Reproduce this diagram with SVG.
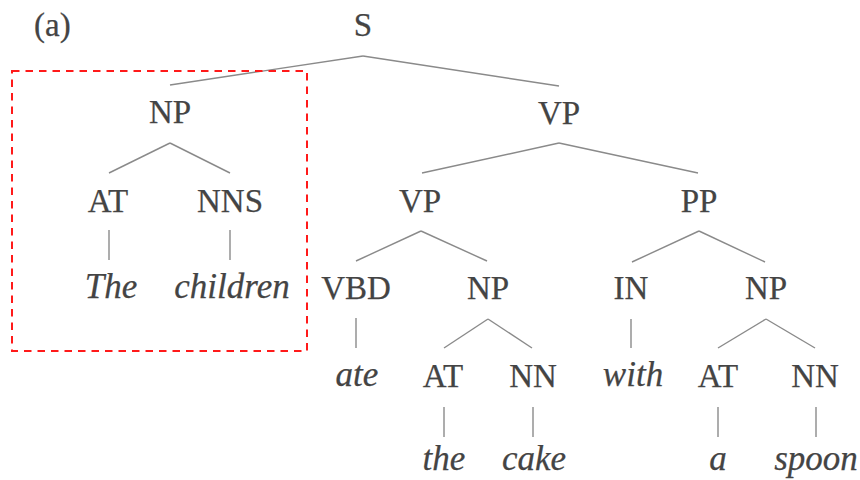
<svg xmlns="http://www.w3.org/2000/svg" width="860" height="480" viewBox="0 0 860 480">
<style>
.t{font-family:"Liberation Serif","Times New Roman",serif;font-size:33px;fill:#444444;stroke:#444444;stroke-width:0.25;text-anchor:middle}
.w{font-family:"Liberation Serif","Times New Roman",serif;font-size:35px;font-style:italic;fill:#444444;stroke:#444444;stroke-width:0.25;text-anchor:middle}
.e line{stroke:#8a8a8a;stroke-width:1.4;fill:none}
.box{fill:none;stroke:#ff1a1a;stroke-width:2;stroke-dasharray:7.5 6}
</style>
<rect width="860" height="480" fill="#ffffff"/>
<text x="34" y="36" class="t" style="text-anchor:start">(a)</text>
<g id="edges" class="e">
<line x1="363" y1="56" x2="170" y2="85"/>
<line x1="363" y1="56" x2="559" y2="86"/>
<line x1="170" y1="143" x2="109" y2="173"/>
<line x1="170" y1="143" x2="230" y2="173"/>
<line x1="109" y1="230" x2="109" y2="260"/>
<line x1="230" y1="230" x2="230" y2="260"/>
<line x1="559" y1="143" x2="422" y2="173"/>
<line x1="559" y1="143" x2="698" y2="173"/>
<line x1="421" y1="231" x2="356" y2="261"/>
<line x1="421" y1="231" x2="487" y2="261"/>
<line x1="699" y1="231" x2="632" y2="262"/>
<line x1="699" y1="231" x2="765" y2="262"/>
<line x1="356" y1="318" x2="356" y2="348"/>
<line x1="488" y1="319" x2="444" y2="348"/>
<line x1="488" y1="319" x2="532" y2="348"/>
<line x1="631" y1="319" x2="631" y2="348"/>
<line x1="766" y1="319" x2="718" y2="348"/>
<line x1="766" y1="319" x2="815" y2="348"/>
<line x1="444" y1="407" x2="444" y2="437"/>
<line x1="533" y1="407" x2="533" y2="437"/>
<line x1="718" y1="407" x2="718" y2="437"/>
<line x1="816" y1="407" x2="816" y2="437"/>
</g>
<g id="n-S"><text x="363" y="36" class="t">S</text></g>
<g id="n-NP1"><text x="170" y="123" class="t">NP</text></g>
<g id="n-VP1"><text x="559" y="124" class="t">VP</text></g>
<g id="n-AT1"><text x="108" y="212" class="t">AT</text></g>
<g id="n-NNS"><text x="230" y="212" class="t">NNS</text></g>
<g id="n-VP2"><text x="420" y="212" class="t">VP</text></g>
<g id="n-PP"><text x="699" y="212" class="t">PP</text></g>
<g id="w-The"><text x="111" y="298" class="w">The</text></g>
<g id="w-children"><text x="232" y="298" class="w">children</text></g>
<g id="n-VBD"><text x="356" y="299" class="t">VBD</text></g>
<g id="n-NP2"><text x="488" y="299" class="t">NP</text></g>
<g id="n-IN"><text x="631" y="299" class="t">IN</text></g>
<g id="n-NP3"><text x="766" y="299" class="t">NP</text></g>
<g id="w-ate"><text x="357" y="386" class="w">ate</text></g>
<g id="n-AT2"><text x="443" y="387" class="t">AT</text></g>
<g id="n-NN1"><text x="533" y="387" class="t">NN</text></g>
<g id="w-with"><text x="633" y="386" class="w">with</text></g>
<g id="n-AT3"><text x="718" y="387" class="t">AT</text></g>
<g id="n-NN2"><text x="815" y="387" class="t">NN</text></g>
<g id="w-the"><text x="444" y="470" class="w">the</text></g>
<g id="w-cake"><text x="534" y="470" class="w">cake</text></g>
<g id="w-a"><text x="718" y="470" class="w">a</text></g>
<g id="w-spoon"><text x="816" y="470" class="w">spoon</text></g>
<rect id="highlight" x="12" y="71" width="295" height="280" class="box"/>
</svg>
